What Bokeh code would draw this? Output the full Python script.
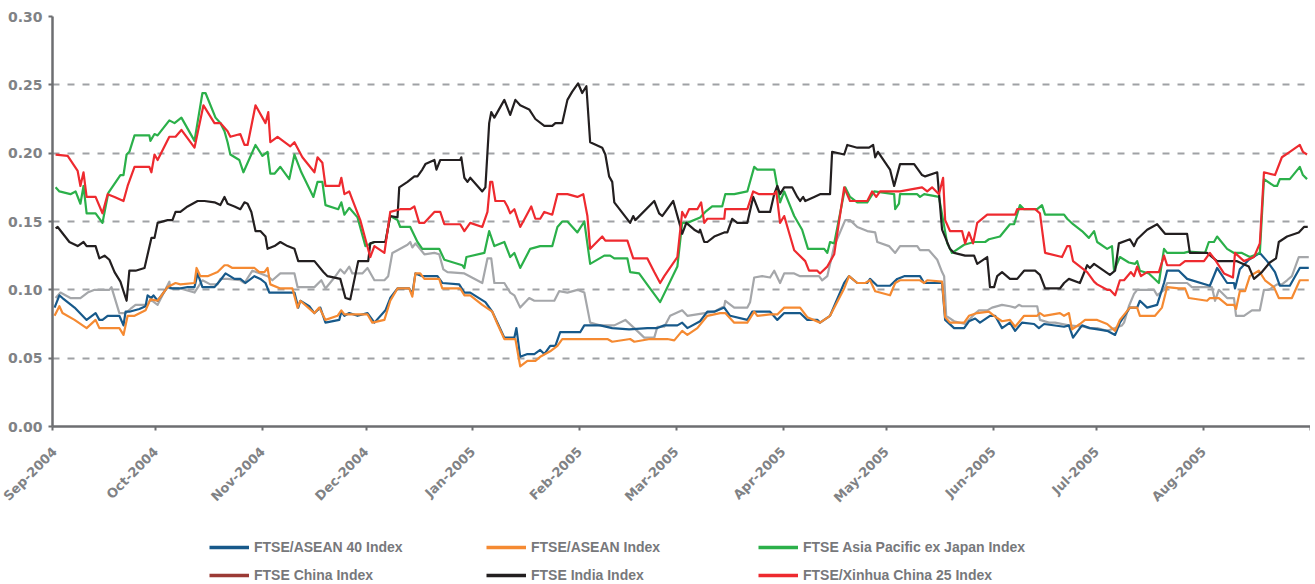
import math
import pandas as pd
from bokeh.plotting import figure
from bokeh.layouts import column
from bokeh.models import Range1d, FixedTicker, NumeralTickFormatter, Legend, LegendItem
from bokeh.embed import file_html
from bokeh.resources import INLINE

START = pd.Timestamp("2004-09-01")

# (day offset from 1 Sep 2004, volatility)
asean40 = [(0.6,.087),(2.0,.096),(2.9,.094),(6.4,.087),(9.9,.078),(12.5,.083),(13.6,.078),(14.5,.078),(16.0,.081),(19.4,.081),(20.6,.074),(21.2,.084),(22.3,.084),(25.2,.086),(27.0,.088),(27.6,.096),(28.7,.094),(29.3,.096),(30.5,.092),(33.4,.102),(34.8,.101),(36.8,.101),(39.2,.102),(41.2,.102),(42.1,.112),(43.5,.102),(47.0,.102),(48.7,.107),(50.2,.112),(52.8,.108),(54.5,.108),(56.0,.105),(58.6,.110),(60.3,.108),(61.8,.105),(62.9,.098),(70.2,.098),(71.3,.087),(71.9,.092),(74.5,.088),(76.0,.083),(77.7,.087),(79.2,.076),(83.2,.078),(83.8,.084),(84.7,.081),(86.1,.083),(88.5,.081),(91.4,.083),(93.4,.076),(96.6,.085),(98.0,.094),(100.1,.101),(103.5,.101),(104.4,.097),(105.3,.112),(107.3,.110),(111.7,.110),(113.1,.105),(118.0,.104),(119.5,.098),(121.2,.098),(125.6,.091),(127.6,.084),(129.1,.076),(131.1,.065),(134.0,.065),(134.6,.072),(135.7,.051),(137.8,.053),(139.8,.053),(141.5,.056),(142.7,.053),(144.4,.059),(145.9,.059),(147.3,.069),(153.1,.069),(154.3,.074),(158.9,.074),(162.4,.072),(167.3,.071),(172.6,.072),(175.5,.072),(177.5,.074),(181.3,.074),(182.7,.076),(184.2,.072),(187.9,.077),(190.0,.084),(192.0,.084),(194.9,.087),(196.6,.081),(201.6,.078),(203.0,.084),(208.2,.084),(210.3,.078),(212.3,.083),(216.9,.083),(219.0,.078),(221.9,.078),(222.7,.076),(225.6,.081),(229.7,.105),(231.1,.110),(233.5,.105),(236.4,.105),(237.2,.108),(239.3,.103),(243.0,.103),(245.1,.108),(247.1,.110),(251.7,.110),(252.9,.105),(258.1,.105),(259.0,.078),(261.6,.072),(264.5,.072),(265.9,.077),(267.7,.079),(269.1,.076),(272.0,.081),(273.5,.081),(275.5,.072),(277.8,.076),(279.3,.070),(281.3,.076),(284.8,.075),(286.2,.072),(287.7,.075),(293.5,.073),(294.9,.074),(296.1,.065),(298.7,.074),(301.0,.072),(306.0,.070),(308.3,.067),(309.7,.076),(312.6,.087),(314.7,.087),(315.5,.092),(317.6,.087),(320.5,.089),(322.5,.105),(323.4,.114),(326.8,.114),(329.2,.108),(335.8,.103),(337.9,.116),(340.8,.105),(342.8,.105),(343.1,.101),(344.5,.115),(347.1,.122),(350.3,.127),(352.4,.121),(354.7,.113),(356.1,.103),(359.0,.103),(361.9,.116),(364.5,.116)]

asean = [(0.6,.081),(2.0,.088),(2.9,.083),(6.4,.078),(9.9,.072),(12.5,.078),(13.6,.072),(19.4,.072),(20.6,.067),(21.8,.081),(23.8,.081),(27.0,.085),(28.4,.093),(30.5,.092),(33.4,.102),(35.7,.105),(37.1,.104),(41.2,.105),(41.8,.116),(42.9,.110),(45.0,.110),(47.9,.113),(49.9,.118),(50.8,.118),(52.2,.116),(58.6,.116),(60.0,.113),(61.5,.113),(62.4,.116),(63.2,.104),(66.1,.101),(69.6,.101),(71.1,.087),(71.9,.092),(76.0,.083),(77.4,.087),(79.2,.078),(82.7,.081),(83.8,.085),(84.7,.082),(88.5,.082),(91.4,.082),(92.8,.076),(96.3,.078),(98.0,.092),(100.1,.101),(103.5,.101),(104.4,.095),(105.3,.112),(106.7,.112),(107.9,.108),(112.2,.108),(113.1,.101),(118.3,.101),(119.5,.096),(121.2,.096),(124.7,.089),(127.6,.084),(129.1,.075),(131.1,.064),(134.3,.064),(135.7,.044),(137.8,.048),(140.1,.048),(141.5,.051),(144.4,.055),(146.5,.059),(147.9,.064),(161.0,.064),(162.4,.062),(167.6,.064),(168.8,.062),(173.4,.064),(178.4,.064),(180.4,.063),(182.7,.070),(184.2,.067),(187.1,.072),(190.0,.081),(193.7,.083),(195.2,.083),(197.8,.076),(201.6,.076),(203.6,.084),(204.5,.081),(208.2,.082),(210.3,.082),(212.3,.087),(216.9,.087),(219.0,.080),(222.7,.076),(225.6,.081),(229.7,.101),(231.1,.110),(233.5,.105),(235.8,.105),(237.2,.107),(238.7,.099),(243.0,.096),(244.5,.105),(245.9,.107),(251.7,.107),(252.9,.105),(253.8,.107),(258.1,.106),(259.0,.080),(260.4,.076),(264.5,.076),(265.9,.081),(268.3,.083),(271.7,.084),(273.2,.081),(275.5,.077),(277.8,.078),(279.3,.073),(281.9,.081),(285.7,.081),(286.5,.083),(287.7,.081),(292.3,.083),(293.5,.081),(294.9,.083),(295.8,.071),(298.1,.075),(299.6,.078),(303.1,.078),(306.0,.075),(308.3,.070),(309.7,.078),(312.6,.087),(314.7,.087),(315.5,.081),(319.9,.081),(321.9,.087),(323.4,.102),(326.8,.101),(328.6,.101),(329.7,.094),(335.0,.092),(335.8,.094),(338.4,.094),(340.8,.089),(342.8,.089),(343.4,.086),(344.5,.099),(346.0,.099),(347.4,.110),(350.0,.114),(351.8,.107),(354.4,.102),(355.8,.094),(359.6,.094),(361.9,.107),(364.5,.107)]

asia_pac = [(0.9,.175),(2.0,.172),(5.2,.170),(6.7,.172),(8.1,.163),(9.0,.176),(9.9,.156),(12.5,.156),(14.5,.149),(16.2,.171),(19.7,.184),(20.6,.184),(21.5,.199),(22.3,.201),(23.8,.213),(28.1,.213),(28.4,.209),(29.6,.214),(30.5,.213),(33.9,.224),(35.4,.222),(37.4,.226),(41.2,.209),(43.5,.244),(44.4,.244),(47.3,.226),(48.7,.222),(49.9,.216),(50.8,.208),(51.6,.199),(54.2,.195),(55.4,.186),(58.9,.206),(60.9,.198),(62.4,.201),(63.2,.185),(64.4,.185),(66.1,.190),(68.7,.181),(70.2,.199),(72.2,.186),(75.7,.168),(76.9,.179),(78.3,.179),(79.2,.162),(82.9,.159),(83.8,.164),(84.7,.155),(86.1,.160),(88.5,.153),(90.8,.132),(93.4,.135),(96.6,.135),(98.0,.154),(100.1,.151),(100.9,.146),(103.8,.146),(105.9,.135),(107.3,.130),(112.2,.130),(113.7,.122),(118.9,.118),(119.5,.116),(120.1,.124),(125.3,.127),(126.7,.143),(128.2,.132),(131.1,.135),(132.8,.124),(134.0,.127),(135.7,.116),(138.6,.130),(141.5,.132),(145.0,.132),(146.5,.146),(147.9,.150),(149.4,.150),(152.3,.142),(154.3,.150),(156.0,.119),(160.1,.125),(161.8,.125),(163.0,.123),(166.8,.123),(167.6,.113),(170.2,.112),(173.1,.102),(176.3,.091),(181.3,.117),(182.7,.149),(184.2,.149),(187.9,.153),(189.4,.157),(191.4,.161),(194.3,.161),(195.2,.170),(197.8,.170),(201.6,.172),(203.6,.190),(204.5,.188),(209.4,.188),(211.1,.164),(212.3,.172),(215.2,.154),(217.5,.144),(219.2,.130),(223.9,.130),(224.8,.127),(225.6,.135),(226.8,.134),(230.0,.175),(231.4,.168),(233.5,.164),(236.4,.164),(238.4,.172),(244.2,.170),(244.5,.159),(245.6,.163),(245.9,.170),(250.9,.170),(251.7,.168),(252.9,.170),(257.2,.168),(259.6,.134),(261.0,.127),(264.5,.133),(267.4,.135),(270.6,.135),(271.7,.137),(274.9,.139),(277.8,.148),(279.0,.148),(280.7,.162),(281.9,.159),(285.7,.159),(287.1,.162),(288.0,.155),(293.5,.155),(294.4,.152),(296.1,.148),(298.7,.143),(300.7,.138),(302.2,.143),(303.1,.135),(306.0,.130),(307.4,.132),(308.0,.114),(309.7,.124),(312.3,.120),(314.1,.119),(314.7,.121),(315.5,.114),(318.1,.112),(321.0,.105),(322.5,.130),(323.4,.127),(328.3,.127),(329.7,.128),(334.4,.127),(335.5,.135),(337.0,.135),(337.9,.139),(340.8,.130),(342.8,.127),(345.1,.127),(347.4,.124),(350.3,.127),(351.5,.181),(354.4,.176),(355.3,.176),(356.1,.181),(359.0,.181),(361.9,.190),(362.8,.184),(364.0,.181)]

china = [(0.9,.094),(2.3,.098),(5.2,.094),(8.1,.094),(10.2,.098),(12.2,.100),(16.5,.100),(17.1,.102),(19.4,.083),(21.2,.083),(22.6,.086),(24.1,.089),(27.6,.089),(28.4,.093),(30.5,.089),(33.9,.106),(34.2,.101),(37.1,.101),(41.2,.098),(43.5,.107),(45.8,.104),(47.9,.104),(48.7,.108),(50.8,.108),(54.5,.107),(55.7,.105),(58.0,.114),(60.3,.112),(62.4,.110),(63.8,.107),(66.1,.112),(70.2,.112),(71.1,.102),(76.0,.102),(78.0,.107),(79.2,.101),(81.8,.109),(83.5,.115),(84.7,.112),(86.1,.117),(87.0,.112),(89.9,.112),(91.4,.116),(93.4,.107),(96.3,.107),(97.4,.110),(98.6,.127),(100.1,.129),(103.0,.133),(103.8,.135),(104.4,.131),(105.3,.134),(107.9,.126),(110.8,.127),(112.2,.126),(113.4,.115),(114.6,.113),(119.5,.112),(124.7,.105),(126.2,.123),(127.3,.123),(128.2,.105),(131.1,.105),(132.8,.098),(134.0,.096),(135.7,.087),(138.3,.094),(139.8,.092),(145.6,.092),(147.0,.099),(149.4,.098),(152.3,.100),(154.3,.098),(156.0,.076),(158.9,.074),(163.0,.074),(166.2,.078),(168.8,.072),(171.7,.065),(174.6,.065),(175.5,.073),(177.5,.073),(179.2,.081),(182.7,.085),(184.2,.081),(192.0,.084),(194.9,.088),(195.2,.092),(197.8,.087),(201.6,.087),(202.4,.091),(203.6,.109),(205.9,.110),(208.2,.109),(209.4,.114),(211.1,.105),(212.3,.112),(215.2,.112),(216.9,.110),(222.4,.110),(223.3,.107),(224.8,.110),(226.8,.132),(230.0,.151),(231.4,.151),(233.5,.146),(236.4,.143),(238.7,.142),(239.3,.135),(242.7,.132),(244.5,.127),(245.9,.132),(250.9,.132),(251.7,.129),(254.3,.129),(256.7,.122),(258.1,.113),(258.7,.110),(259.3,.081),(261.6,.077),(264.8,.075),(267.4,.082),(268.8,.085),(271.2,.085),(272.6,.087),(275.5,.089),(277.8,.088),(279.3,.087),(280.4,.089),(281.3,.088),(285.7,.088),(286.5,.078),(289.1,.076),(290.9,.076),(294.9,.074),(299.3,.073),(300.7,.072),(303.1,.072),(306.0,.070),(308.3,.072),(310.3,.074),(310.9,.076),(312.3,.088),(313.8,.097),(314.7,.100),(319.6,.100),(320.5,.096),(322.5,.100),(323.4,.105),(329.2,.105),(330.6,.102),(336.4,.102),(337.3,.092),(338.4,.100),(340.8,.094),(342.8,.094),(343.4,.081),(345.7,.081),(348.0,.085),(350.3,.085),(351.5,.100),(352.9,.100),(355.3,.104),(356.7,.104),(358.2,.107),(359.6,.110),(361.6,.124),(364.5,.124)]

india = [(0.9,.145),(1.5,.146),(4.9,.135),(7.3,.132),(9.0,.135),(9.9,.132),(12.5,.132),(13.6,.123),(15.1,.125),(16.5,.122),(18.0,.113),(19.7,.106),(21.5,.092),(22.3,.114),(24.1,.114),(26.7,.116),(28.7,.138),(29.6,.138),(30.5,.149),(33.4,.151),(34.8,.151),(35.7,.157),(37.1,.157),(39.2,.161),(42.1,.165),(44.1,.165),(47.0,.164),(48.7,.162),(49.9,.168),(50.8,.163),(52.8,.161),(54.5,.159),(55.7,.164),(56.6,.163),(57.7,.157),(58.9,.143),(60.3,.143),(61.8,.139),(62.4,.130),(64.4,.132),(66.1,.135),(68.2,.132),(70.2,.130),(71.3,.121),(76.0,.121),(78.6,.113),(79.8,.110),(83.5,.108),(85.0,.094),(86.4,.093),(88.7,.121),(91.6,.121),(92.2,.134),(93.4,.135),(96.6,.135),(98.0,.154),(100.1,.153),(100.6,.175),(103.0,.179),(105.0,.183),(105.9,.183),(107.3,.188),(108.2,.192),(110.8,.195),(111.4,.188),(112.5,.195),(118.3,.195),(118.6,.197),(119.5,.182),(120.4,.179),(121.2,.182),(124.7,.172),(125.6,.175),(126.7,.222),(127.3,.230),(128.2,.226),(131.1,.239),(132.8,.228),(134.3,.239),(135.7,.235),(138.3,.232),(140.1,.225),(142.7,.220),(145.0,.220),(145.9,.222),(147.9,.222),(149.4,.239),(150.8,.245),(152.5,.251),(153.7,.244),(154.9,.249),(156.0,.208),(159.5,.204),(160.4,.199),(161.5,.183),(162.4,.179),(163.0,.164),(167.6,.149),(168.5,.154),(169.1,.151),(174.6,.165),(176.0,.156),(176.9,.154),(180.1,.165),(182.1,.147),(182.7,.141),(183.9,.149),(186.2,.144),(187.6,.142),(187.9,.144),(189.1,.135),(190.0,.135),(192.0,.139),(194.9,.142),(195.8,.142),(197.2,.152),(198.7,.149),(201.6,.149),(203.3,.168),(205.0,.157),(208.2,.157),(209.4,.170),(210.3,.176),(211.1,.170),(212.3,.175),(214.6,.175),(216.1,.168),(216.9,.165),(217.8,.168),(218.4,.165),(221.0,.168),(222.7,.170),(225.6,.170),(226.2,.201),(229.7,.199),(230.6,.206),(233.5,.204),(236.9,.204),(238.1,.206),(238.7,.197),(239.5,.201),(243.0,.188),(244.2,.176),(245.9,.192),(250.0,.192),(252.3,.184),(253.2,.183),(256.7,.186),(258.1,.144),(260.4,.130),(261.6,.127),(264.8,.125),(267.4,.125),(268.3,.119),(271.2,.124),(272.0,.102),(273.2,.102),(274.1,.110),(275.5,.113),(277.8,.108),(279.9,.108),(281.9,.114),(285.1,.114),(286.5,.111),(288.0,.101),(292.3,.101),(293.5,.105),(294.9,.108),(298.1,.105),(300.2,.118),(301.0,.116),(302.2,.119),(306.8,.111),(308.3,.114),(309.4,.134),(312.6,.137),(313.8,.132),(314.7,.137),(317.6,.144),(320.5,.148),(322.8,.141),(329.2,.141),(330.0,.127),(335.0,.127),(337.9,.121),(343.7,.121),(347.1,.117),(348.6,.108),(350.9,.113),(353.2,.120),(355.0,.123),(355.8,.135),(358.2,.139),(361.6,.142),(363.1,.146),(364.2,.146)]

xinhua = [(0.9,.199),(4.4,.198),(7.3,.187),(8.1,.176),(9.0,.186),(9.9,.168),(12.5,.168),(14.5,.156),(16.0,.170),(18.0,.168),(20.6,.165),(21.8,.176),(23.8,.190),(28.1,.190),(28.7,.186),(29.6,.199),(30.5,.195),(33.9,.212),(35.7,.212),(37.4,.217),(41.2,.204),(43.8,.235),(47.0,.222),(48.7,.222),(50.8,.216),(51.6,.212),(54.5,.214),(55.7,.206),(56.6,.206),(58.9,.235),(61.8,.222),(62.6,.230),(63.2,.208),(65.3,.212),(69.0,.205),(70.2,.208),(72.5,.197),(76.0,.186),(76.9,.197),(78.3,.193),(79.2,.176),(83.2,.176),(83.8,.182),(84.7,.170),(86.1,.172),(87.0,.166),(89.3,.151),(90.8,.137),(92.2,.124),(93.4,.132),(96.3,.127),(98.0,.157),(100.9,.159),(103.8,.159),(105.0,.161),(106.4,.149),(107.9,.149),(110.8,.157),(112.5,.157),(113.7,.148),(118.3,.148),(119.5,.143),(121.2,.149),(124.7,.146),(126.2,.157),(127.0,.179),(127.6,.179),(128.5,.165),(131.1,.165),(132.0,.161),(132.8,.156),(134.0,.159),(135.7,.146),(137.2,.153),(138.9,.161),(140.1,.152),(141.5,.152),(142.7,.157),(145.0,.155),(146.5,.170),(149.4,.170),(152.3,.168),(154.0,.170),(155.2,.154),(156.0,.130),(159.5,.139),(160.4,.136),(166.8,.136),(168.5,.123),(172.6,.123),(174.6,.113),(176.3,.105),(177.5,.110),(181.3,.124),(182.7,.157),(183.6,.153),(184.7,.159),(187.1,.159),(188.2,.164),(189.1,.149),(190.0,.152),(194.9,.152),(195.2,.159),(201.6,.159),(203.3,.172),(205.0,.170),(209.4,.170),(210.0,.172),(211.1,.149),(212.3,.154),(215.2,.129),(218.4,.121),(219.5,.114),(221.9,.114),(222.7,.112),(224.8,.117),(226.8,.126),(229.7,.175),(231.4,.165),(236.4,.165),(237.8,.172),(239.0,.168),(240.1,.172),(245.9,.172),(252.3,.175),(253.8,.172),(255.2,.175),(257.2,.170),(258.4,.182),(259.0,.151),(260.4,.143),(263.9,.143),(264.8,.134),(265.9,.142),(267.1,.134),(268.3,.149),(271.2,.155),(279.3,.155),(279.9,.159),(285.1,.159),(286.5,.156),(288.0,.127),(292.9,.124),(294.4,.132),(295.2,.132),(296.1,.121),(300.2,.113),(302.2,.106),(303.1,.104),(306.0,.100),(306.8,.100),(308.3,.096),(309.7,.107),(310.9,.107),(312.9,.113),(313.8,.110),(314.7,.117),(315.8,.110),(317.6,.113),(321.0,.113),(322.5,.125),(323.4,.118),(327.1,.118),(328.6,.121),(334.1,.121),(335.8,.127),(337.3,.122),(339.9,.112),(342.5,.109),(343.1,.127),(345.7,.121),(348.6,.124),(350.3,.134),(351.5,.186),(354.7,.184),(356.7,.197),(359.0,.201),(361.9,.206),(362.8,.201),(364.0,.199)]

series_names = ["FTSE/ASEAN 40 Index", "FTSE/ASEAN Index", "FTSE Asia Pacific ex Japan Index",
                "FTSE China Index", "FTSE India Index", "FTSE/Xinhua China 25 Index"]
legend_colors = ["#17598a", "#f58a32", "#2bb04a", "#9b3a35", "#231f20", "#ee2a2f"]
line_colors = ["#17598a", "#f58a32", "#2bb04a", "#a5a7aa", "#231f20", "#ee2a2f"]
series_data = [asean40, asean, asia_pac, china, india, xinhua]
draw_order = [3, 0, 1, 2, 4, 5]

tick_labels = ["Sep-2004", "Oct-2004", "Nov-2004", "Dec-2004", "Jan-2005", "Feb-2005", "Mar-2005",
               "Apr-2005", "May-2005", "Jun-2005", "Jul-2005", "Aug-2005", ""]
y_ticks = [0.0, 0.05, 0.10, 0.15, 0.20, 0.25, 0.30]

GRAY_TXT = "#808285"
AXIS_COL = "#6d6e71"
W = 1310

p = figure(width=W, height=526, x_axis_type="datetime",
           x_range=Range1d(START, START + pd.Timedelta(days=365)),
           y_range=Range1d(0, 0.30),
           output_backend="svg", toolbar_location=None,
           min_border_left=52, min_border_right=0, min_border_top=16, min_border_bottom=100)
p.outline_line_color = None
p.background_fill_color = "white"
p.border_fill_color = "white"

for i in draw_order:
    pts = series_data[i]
    xs = [START + pd.Timedelta(days=d) for d, _ in pts]
    ys = [v for _, v in pts]
    p.line(xs, ys, line_color=line_colors[i], line_width=2.2, line_join="round")

# axes
month_ticks = pd.date_range("2004-09-01", "2005-09-01", freq="MS")
tick_ms = [int(t.value // 10**6) for t in month_ticks]
p.xaxis.ticker = FixedTicker(ticks=tick_ms)
p.xaxis.major_label_overrides = {ms: lab for ms, lab in zip(tick_ms, tick_labels)}
p.xaxis.major_label_orientation = math.pi / 4
p.xaxis.major_label_standoff = 19
p.xaxis.minor_tick_line_color = None

p.yaxis.ticker = FixedTicker(ticks=y_ticks)
p.yaxis.formatter = NumeralTickFormatter(format="0.00")
p.yaxis.minor_tick_line_color = None
p.yaxis.major_label_standoff = 6

for ax in (p.xaxis, p.yaxis):
    ax.axis_line_color = AXIS_COL
    ax.axis_line_width = 2.5
    ax.major_tick_line_color = AXIS_COL
    ax.major_tick_line_width = 2
    ax.major_tick_in = 0
    ax.major_tick_out = 4
    ax.major_label_text_color = GRAY_TXT
    ax.major_label_text_font = "DejaVu Sans"
    ax.major_label_text_font_style = "bold"
p.xaxis.major_label_text_font_size = "13px"
p.yaxis.major_label_text_font_size = "14px"

p.xgrid.grid_line_color = None
p.ygrid.ticker = FixedTicker(ticks=y_ticks)
p.ygrid.grid_line_color = "#a0a2a5"
p.ygrid.grid_line_width = 2
p.ygrid.grid_line_dash = "7 8"

# legend strip below the chart (three columns, two rows)
lg = figure(width=W, height=57, x_range=Range1d(0, 1), y_range=Range1d(0, 1),
            x_axis_location=None, y_axis_location=None,
            output_backend="svg", toolbar_location=None,
            min_border_left=0, min_border_right=0, min_border_top=0, min_border_bottom=0)
lg.outline_line_color = None
lg.xgrid.grid_line_color = None
lg.ygrid.grid_line_color = None
lg.border_fill_color = "white"

# one off-range point each, used only to style the legend swatches
dummies = [lg.line(x=[0.5], y=[-5], line_color=c, line_width=3.5) for c in legend_colors]
columns = [(0, 3, 157), (1, 4, 434), (2, 5, 706)]
for a, b, xoff in columns:
    leg = Legend(items=[LegendItem(label=series_names[a], renderers=[dummies[a]]),
                        LegendItem(label=series_names[b], renderers=[dummies[b]])],
                 location=(xoff, 0), orientation="vertical",
                 padding=0, margin=0, spacing=12, border_line_color=None,
                 background_fill_alpha=0, glyph_width=40, glyph_height=16,
                 label_height=16, label_standoff=5,
                 label_text_font="Liberation Sans", label_text_font_style="bold",
                 label_text_font_size="14px", label_text_color="#77787b")
    lg.add_layout(leg, "center")

layout = column(p, lg, spacing=0)
open("out.html", "w").write(file_html(layout, INLINE))
